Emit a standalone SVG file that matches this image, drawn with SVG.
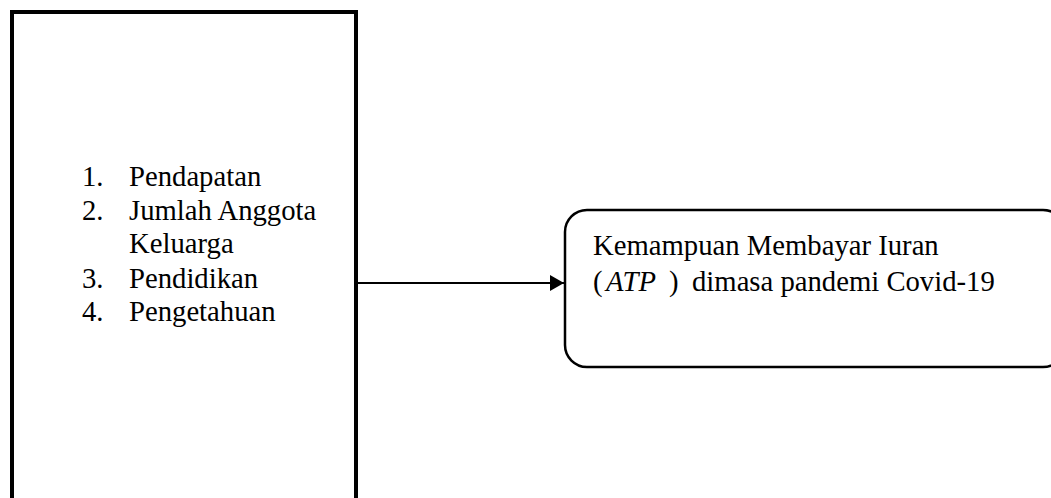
<svg xmlns="http://www.w3.org/2000/svg" width="1051" height="498" viewBox="0 0 1051 498">
<style>
.t{font-family:"Liberation Serif","Times New Roman",serif;font-size:28.7px;fill:#000}
.box{fill:#fff;stroke:#000}
</style>
<defs>
<marker id="ah" markerWidth="14" markerHeight="16" refX="14" refY="8" orient="auto" markerUnits="userSpaceOnUse">
<path d="M0,0 L14,8 L0,16 Z" fill="#000"/>
</marker>
</defs>
<rect width="1051" height="498" fill="#fff"/>
<g id="node-factors">
<rect class="box" x="12" y="12" width="344" height="520" stroke-width="4"/>
<text class="t" x="82" y="186">1.</text><text class="t" x="129" y="186">Pendapatan</text>
<text class="t" x="82" y="220">2.</text><text class="t" x="129" y="220">Jumlah Anggota</text>
<text class="t" x="129" y="253">Keluarga</text>
<text class="t" x="82" y="288">3.</text><text class="t" x="129" y="288">Pendidikan</text>
<text class="t" x="82" y="321">4.</text><text class="t" x="129" y="321">Pengetahuan</text>
</g>
<g id="node-atp">
<rect class="box" x="565" y="210" width="500" height="157" rx="22" ry="22" stroke-width="2.5"/>
<text class="t" x="593" y="255">Kemampuan Membayar Iuran</text>
<text class="t" y="291"><tspan x="593">(</tspan><tspan x="606" font-style="italic">ATP</tspan><tspan x="669">)</tspan><tspan x="692">dimasa pandemi Covid-19</tspan></text>
</g>
<g id="connectors">
<line x1="358" y1="283" x2="564" y2="283" stroke="#000" stroke-width="2" marker-end="url(#ah)"/>
</g>
</svg>
